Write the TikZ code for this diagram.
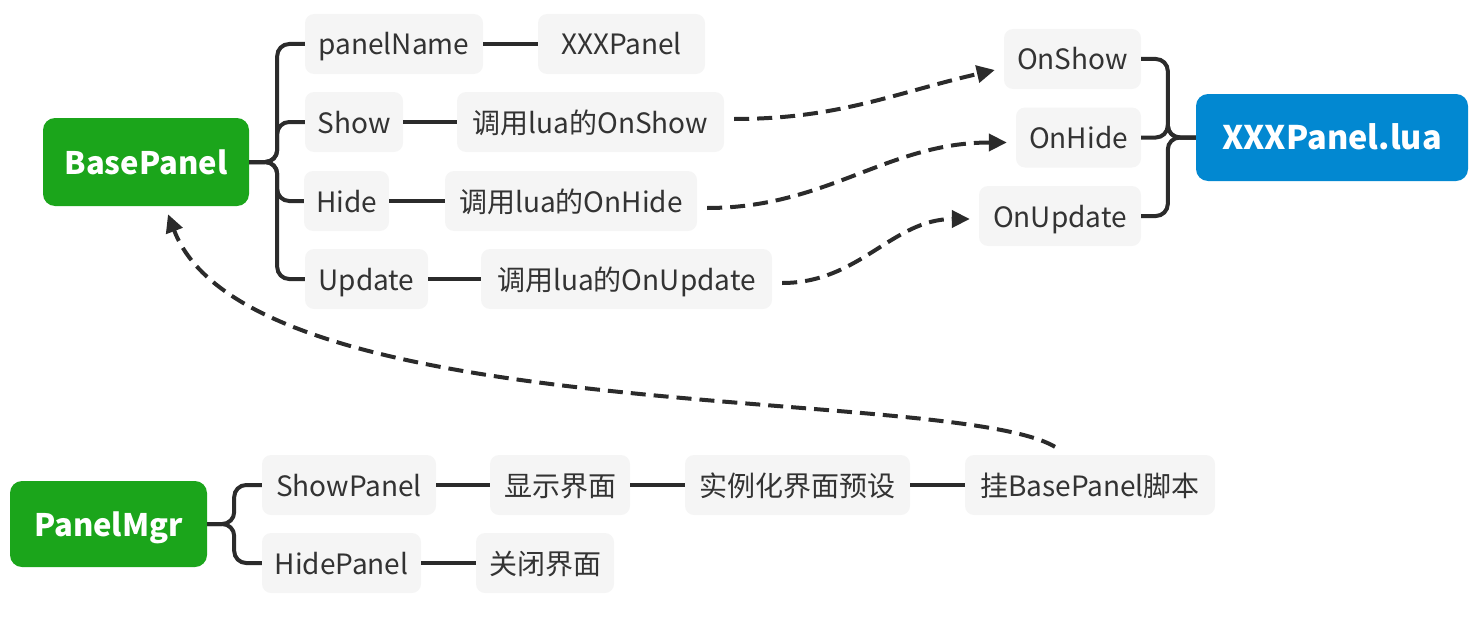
\documentclass[tikz,border=0pt]{standalone}
\usepackage{fontspec}
\setmainfont{Noto Sans CJK SC}
\usetikzlibrary{arrows.meta}
\definecolor{leafbg}{HTML}{F5F5F5}
\definecolor{txt}{HTML}{333333}
\definecolor{lnk}{HTML}{2B2B2B}
\definecolor{rootgreen}{RGB}{27,165,27}
\definecolor{rootblue}{RGB}{2,136,209}
\tikzset{
  leaf/.style={rectangle, rounded corners=9pt, fill=leafbg, text=txt, minimum height=60pt, inner sep=0pt, text height=26pt, text depth=4pt, font=\fontsize{28}{32}\selectfont},
  rootbox/.style={rectangle, rounded corners=12pt, text=white, inner sep=0pt, text height=28pt, text depth=4pt, font=\fontsize{31}{36}\selectfont\bfseries},
  branch/.style={draw=lnk, line width=4pt, rounded corners=12pt},
  dashlink/.style={draw=lnk, line width=4pt, dash pattern=on 15pt off 8pt, -{Triangle[length=18pt,width=17pt]}}
}
\begin{document}
\begin{tikzpicture}[x=1pt,y=-1pt]
\useasboundingbox (0,0) rectangle (1479,618);
% roots
\node[rootbox, fill=rootgreen, minimum width=206pt, minimum height=88pt] (bp) at (146,162) {BasePanel};
\node[rootbox, fill=rootblue, minimum width=272pt, minimum height=87pt, font=\fontsize{32.5}{36}\selectfont\bfseries] (xp) at (1332,137.5) {XXXPanel.lua};
\node[rootbox, fill=rootgreen, minimum width=197pt, minimum height=86pt] (pm) at (108.5,524) {PanelMgr};
% BasePanel leaves
\node[leaf, minimum width=178pt] (pn) at (394,44) {panelName};
\node[leaf, minimum width=167pt] (xxx) at (621.5,44) {XXXPanel};
\node[leaf, minimum width=98pt] (show) at (354,122) {Show};
\node[leaf, minimum width=267pt] (cshow) at (590.5,122) {调用lua的OnShow};
\node[leaf, minimum width=85pt] (hide) at (346.5,201) {Hide};
\node[leaf, minimum width=252pt] (chide) at (571,201) {调用lua的OnHide};
\node[leaf, minimum width=123pt] (upd) at (366.5,279) {Update};
\node[leaf, minimum width=291pt] (cupd) at (626.5,279) {调用lua的OnUpdate};
% XXXPanel.lua leaves
\node[leaf, minimum width=137pt] (onshow) at (1072.5,59) {OnShow};
\node[leaf, minimum width=125pt] (onhide) at (1078.5,137.5) {OnHide};
\node[leaf, minimum width=162pt] (onupd) at (1060,216) {OnUpdate};
% PanelMgr leaves
\node[leaf, minimum width=174pt] (sp) at (349,485) {ShowPanel};
\node[leaf, minimum width=159pt] (hp) at (341.5,563) {HidePanel};
\node[leaf, minimum width=140pt] (xs) at (560,485) {显示界面};
\node[leaf, minimum width=225pt] (sl) at (797.5,485) {实例化界面预设};
\node[leaf, minimum width=250pt] (gua) at (1090,485) {挂BasePanel脚本};
\node[leaf, minimum width=138pt] (gb) at (545,563) {关闭界面};
% BasePanel branches
\foreach \c in {pn,show,hide,upd}
  \draw[branch] (bp.east) -- ([xshift=28pt]bp.east) |- (\c.west);
% XXXPanel.lua branches
\foreach \c in {onshow,onhide,onupd}
  \draw[branch] (xp.west) -- ([xshift=-28pt]xp.west) |- (\c.east);
% PanelMgr branches
\foreach \c in {sp,hp}
  \draw[branch] (pm.east) -- ([xshift=27pt]pm.east) |- (\c.west);
% straight links
\draw[branch] (pn.east) -- (xxx.west);
\draw[branch] (show.east) -- (cshow.west);
\draw[branch] (hide.east) -- (chide.west);
\draw[branch] (upd.east) -- (cupd.west);
\draw[branch] (sp.east) -- (xs.west);
\draw[branch] (xs.east) -- (sl.west);
\draw[branch] (sl.east) -- (gua.west);
\draw[branch] (hp.east) -- (gb.west);
% dashed arrows
\coordinate (s1) at ([xshift=10pt,yshift=3pt]cshow.east);
\coordinate (e1) at ([xshift=-9pt,yshift=-11pt]onshow.west);
\draw[dashlink] (s1) to[out=0,in=193] (e1);
\coordinate (s2) at ([xshift=10pt,yshift=-7pt]chide.east);
\coordinate (e2) at ([xshift=-9pt,yshift=-5pt]onhide.west);
\draw[dashlink] (s2) to[out=0,in=180] (e2);
\coordinate (s3) at ([xshift=10pt,yshift=-4pt]cupd.east);
\coordinate (e3) at ([xshift=-9pt,yshift=-3pt]onupd.west);
\draw[dashlink] (s3) to[out=0,in=180] (e3);
\coordinate (s4) at ([xshift=-35pt,yshift=8pt]gua.north);
\coordinate (e4) at ([xshift=22pt,yshift=-8pt]bp.south);
\draw[dashlink] (s4) .. controls (950,385) and (250,430) .. (e4);
\end{tikzpicture}
\end{document}
